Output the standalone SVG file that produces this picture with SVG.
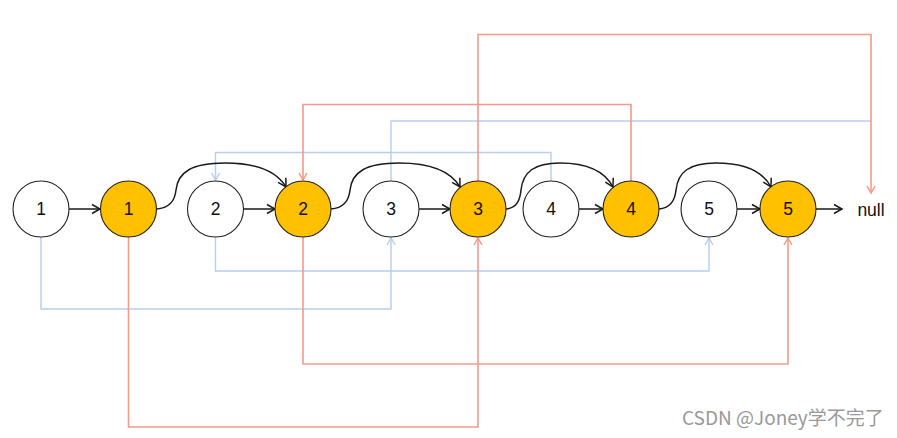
<svg xmlns="http://www.w3.org/2000/svg" width="897" height="438" viewBox="0 0 897 438">
<defs>
<style>
.node circle{stroke:#222;stroke-width:1.1}
.w circle{fill:#fff}
.y circle{fill:#FFC000}
text.lbl{font-family:"Liberation Sans",Arial,sans-serif;font-size:17.5px;fill:#111;text-anchor:middle;dominant-baseline:central}
.blk{fill:none;stroke:#1a1a1a;stroke-width:1.5}
.red{fill:none;stroke:#F39A8A;stroke-width:1.6}
.blu{fill:none;stroke:#B7CDF1;stroke-width:1.4}
</style>
<marker id="ab" markerUnits="userSpaceOnUse" markerWidth="12" markerHeight="12" refX="10" refY="6" orient="auto" viewBox="0 0 12 12">
<path d="M2,1.5 L10,6 L2,10.5" fill="none" stroke="#1a1a1a" stroke-width="1.5"/>
</marker>
<marker id="ar" markerUnits="userSpaceOnUse" markerWidth="12" markerHeight="12" refX="10" refY="6" orient="auto" viewBox="0 0 12 12">
<path d="M3,2 L10,6 L3,10" fill="none" stroke="#F39A8A" stroke-width="1.5"/>
</marker>
<marker id="au" markerUnits="userSpaceOnUse" markerWidth="12" markerHeight="12" refX="10" refY="6" orient="auto" viewBox="0 0 12 12">
<path d="M3,2 L10,6 L3,10" fill="none" stroke="#B7CDF1" stroke-width="1.4"/>
</marker>
</defs>
<rect width="897" height="438" fill="#fff"/>
<g id="connectors">
<!-- blue -->
<polyline class="blu" points="41,237 41,309 391,309 391,238" marker-end="url(#au)"/>
<polyline class="blu" points="215.5,237 215.5,271 709,271 709,238" marker-end="url(#au)"/>
<polyline class="blu" points="551,181 551,152.5 215.5,152.5 215.5,180" marker-end="url(#au)"/>
<polyline class="blu" points="391,181 391,121 871,121"/>
<!-- red -->
<polyline class="red" points="128.5,237 128.5,427 478,427 478,238" marker-end="url(#ar)"/>
<polyline class="red" points="303,237 303,364 788,364 788,238" marker-end="url(#ar)"/>
<polyline class="red" points="631,181 631,104.5 303,104.5 303,180" marker-end="url(#ar)"/>
<polyline class="red" points="478,181 478,34.5 871,34.5 871,193" marker-end="url(#ar)"/>
<!-- black straight -->
<line class="blk" x1="69" y1="209" x2="100" y2="209" marker-end="url(#ab)"/>
<line class="blk" x1="243.5" y1="209" x2="275" y2="209" marker-end="url(#ab)"/>
<line class="blk" x1="418.7" y1="209" x2="450" y2="209" marker-end="url(#ab)"/>
<line class="blk" x1="579" y1="209" x2="603" y2="209" marker-end="url(#ab)"/>
<line class="blk" x1="737" y1="209" x2="760" y2="209" marker-end="url(#ab)"/>
<line class="blk" x1="816" y1="209" x2="842" y2="209" marker-end="url(#ab)"/>
<!-- black curves -->
<path class="blk" d="M156.5,209 C170,208 175,200 176,190 C178,172 192,163 225,163 C255,163 276,170 286,187" marker-end="url(#ab)"/>
<path class="blk" d="M331,209 C344,208 349,200 350,190 C352,172 366,163 399,163 C429,163 450,170 460,187" marker-end="url(#ab)"/>
<path class="blk" d="M506,209 C517,208 520,200 521,190 C523,172 534,163 560,163 C585,163 604,170 613,187" marker-end="url(#ab)"/>
<path class="blk" d="M659,209 C671,208 675,200 676,190 C678,172 689,163 716,163 C742,163 762,170 771,187" marker-end="url(#ab)"/>
</g>
<g id="n1w" class="node w"><circle cx="41" cy="209" r="28"/><text class="lbl" x="41" y="209">1</text></g>
<g id="n1y" class="node y"><circle cx="128.5" cy="209" r="28"/><text class="lbl" x="128.5" y="209">1</text></g>
<g id="n2w" class="node w"><circle cx="215.5" cy="209" r="28"/><text class="lbl" x="215.5" y="209">2</text></g>
<g id="n2y" class="node y"><circle cx="303" cy="209" r="28"/><text class="lbl" x="303" y="209">2</text></g>
<g id="n3w" class="node w"><circle cx="391" cy="209" r="28"/><text class="lbl" x="391" y="209">3</text></g>
<g id="n3y" class="node y"><circle cx="478" cy="209" r="28"/><text class="lbl" x="478" y="209">3</text></g>
<g id="n4w" class="node w"><circle cx="551" cy="209" r="28"/><text class="lbl" x="551" y="209">4</text></g>
<g id="n4y" class="node y"><circle cx="631" cy="209" r="28"/><text class="lbl" x="631" y="209">4</text></g>
<g id="n5w" class="node w"><circle cx="709" cy="209" r="28"/><text class="lbl" x="709" y="209">5</text></g>
<g id="n5y" class="node y"><circle cx="788" cy="209" r="28"/><text class="lbl" x="788" y="209">5</text></g>
<g id="null"><text class="lbl" x="871" y="210">null</text></g>
<text x="682" y="425" font-family="'Noto Sans CJK SC','Noto Sans',sans-serif" font-size="19" fill="#999">CSDN @Joney学不完了</text>
</svg>
